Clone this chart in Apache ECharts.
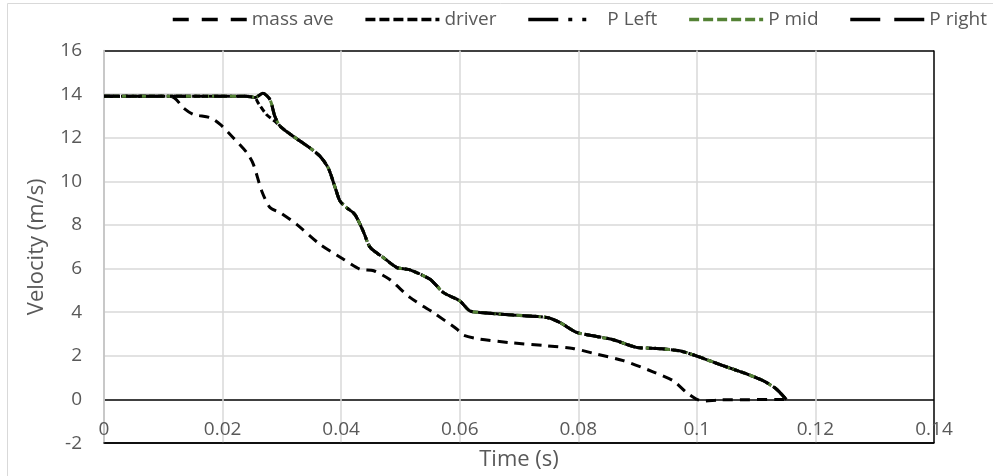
<!DOCTYPE html>
<html>
<head>
<meta charset="utf-8">
<script src="https://cdn.jsdelivr.net/npm/echarts@6/dist/echarts.min.js"></script>
<style>
    html, body { margin: 0; padding: 0; background: #fff; }
    #chart { width: 993px; height: 476px; }
</style>
</head>
<body>
<div id="chart"></div>
<script>
// mass ave
var massTime = [0, 0.005, 0.0112, 0.0122, 0.0134, 0.0151, 0.0179, 0.0196, 0.0218, 0.0241, 0.0252, 0.0266, 0.028, 0.0297,
    0.0325, 0.0364, 0.0404, 0.0432, 0.0455, 0.0482, 0.0516, 0.0555, 0.0595, 0.0606, 0.0634, 0.069, 0.0747, 0.0791,
    0.0831, 0.0876, 0.0926, 0.096, 0.0982, 0.0999, 0.1011, 0.1039, 0.1151];
var massVel = [13.9, 13.9, 13.9, 13.75, 13.37, 13.07, 12.92, 12.61, 12.0, 11.31, 10.78, 9.56, 8.8, 8.57,
    8.03, 7.12, 6.43, 5.97, 5.9, 5.5, 4.68, 3.99, 3.23, 2.95, 2.77, 2.59, 2.46, 2.34,
    2.08, 1.78, 1.27, 0.86, 0.33, 0.02, -0.07, -0.02, 0];

// driver
var driverTime = [0, 0.005, 0.01, 0.015, 0.02, 0.024, 0.0255, 0.026, 0.0274, 0.0288, 0.0297, 0.0319, 0.0347, 0.0364,
    0.0378, 0.039, 0.0398, 0.0409, 0.0423, 0.0437, 0.0449, 0.0471, 0.0494, 0.0515, 0.055, 0.0572, 0.06, 0.0617,
    0.0634, 0.069, 0.0747, 0.0769, 0.0797, 0.0831, 0.0859, 0.0898, 0.0932, 0.0971, 0.0999, 0.1044, 0.1084,
    0.1112, 0.1134, 0.1151];
var driverVel = [13.9, 13.9, 13.9, 13.9, 13.9, 13.9, 13.83, 13.6, 13.07, 12.76, 12.53, 12.07, 11.54, 11.16,
    10.63, 9.71, 9.1, 8.8, 8.49, 7.73, 6.97, 6.51, 6.05, 5.95, 5.51, 4.91, 4.52, 4.06,
    3.99, 3.87, 3.76, 3.53, 3.08, 2.89, 2.74, 2.39, 2.34, 2.23, 2.0, 1.55, 1.17,
    0.86, 0.48, 0];

// P Left / P mid / P right (practically the same curve)
var pTime = [0, 0.005, 0.01, 0.015, 0.02, 0.024, 0.0255, 0.0268, 0.028, 0.0288, 0.0297, 0.0319, 0.0347, 0.0364,
    0.0378, 0.039, 0.0398, 0.0409, 0.0423, 0.0437, 0.0449, 0.0471, 0.0494, 0.0515, 0.055, 0.0572, 0.06, 0.0617,
    0.0634, 0.069, 0.0747, 0.0769, 0.0797, 0.0831, 0.0859, 0.0898, 0.0932, 0.0971, 0.0999, 0.1044, 0.1084,
    0.1112, 0.1134, 0.1151];
var pVel = [13.9, 13.9, 13.9, 13.9, 13.9, 13.9, 13.85, 14.04, 13.75, 13.0, 12.53, 12.07, 11.54, 11.16,
    10.63, 9.71, 9.1, 8.8, 8.49, 7.73, 6.97, 6.51, 6.05, 5.95, 5.51, 4.91, 4.52, 4.06,
    3.99, 3.87, 3.76, 3.53, 3.08, 2.89, 2.74, 2.39, 2.34, 2.23, 2.0, 1.55, 1.17,
    0.86, 0.48, 0];

var seriesNames = ['mass ave', 'driver', 'P Left', 'P mid', 'P right'];
var xTicks = { min: 0, max: 0.14, step: 0.02 };
var yTicks = { min: -2, max: 16, step: 2 };

function pairs(t, v) {
    var out = [];
    for (var i = 0; i < t.length; i++) {
        out.push([t[i], v[i]]);
    }
    return out;
}

(function () {
    var myChart = echarts.init(document.getElementById('chart'));
    var font = 'Open Sans';
    var gray = '#d9d9d9';
    var green = '#548235';

    function line(name, data, color, dash) {
        return {
            name: name,
            type: 'line',
            data: data,
            smooth: 0.25,
            symbol: 'none',
            showSymbol: false,
            lineStyle: { color: color, width: 3, type: dash, cap: 'butt' },
            itemStyle: { color: color }
        };
    }

    // legend icons drawn a bit coarser, like the original
    function legendItem(name, dash) {
        return { name: name, lineStyle: { type: dash, width: 3.5 } };
    }

    var option = {
        animation: false,
        graphic: [{
            type: 'rect',
            shape: { x: 7.5, y: 3.5, width: 1100, height: 600 },
            style: { fill: 'none', stroke: gray, lineWidth: 1 },
            silent: true
        }],
        legend: {
            left: 166,
            top: 5,
            itemWidth: 74,
            itemHeight: 14,
            itemGap: 30,
            itemStyle: { opacity: 0 },
            lineStyle: { width: 3.5 },
            textStyle: { fontFamily: font, fontSize: 19, color: '#595959' },
            data: [
                legendItem(seriesNames[0], [16, 13]),
                legendItem(seriesNames[1], [10, 4]),
                legendItem(seriesNames[2], [30, 10, 4, 10, 4, 16]),
                legendItem(seriesNames[3], [10, 4]),
                legendItem(seriesNames[4], [30, 14])
            ]
        },
        grid: { left: 104, right: 59, top: 50.5, bottom: 32 },
        xAxis: {
            type: 'value',
            min: xTicks.min,
            max: xTicks.max,
            interval: xTicks.step,
            name: 'Time (s)',
            nameLocation: 'middle',
            nameGap: 2,
            nameTextStyle: { fontFamily: font, fontSize: 22, color: '#595959', verticalAlign: 'top' },
            axisLine: { onZero: false, lineStyle: { color: '#000', width: 1.5 } },
            axisTick: { show: false },
            axisLabel: { inside: true, margin: 4, fontFamily: font, fontSize: 19, color: '#595959' },
            splitLine: {
                show: true,
                lineStyle: { color: [gray, gray, gray, gray, gray, gray, gray, '#000'], width: 1.5 }
            }
        },
        yAxis: {
            type: 'value',
            min: yTicks.min,
            max: yTicks.max,
            interval: yTicks.step,
            name: 'Velocity (m/s)',
            nameLocation: 'middle',
            nameGap: 56,
            nameTextStyle: { fontFamily: font, fontSize: 22, color: '#595959' },
            axisLine: { show: true, lineStyle: { color: '#bfbfbf', width: 1.5 } },
            axisTick: { show: false },
            axisLabel: { margin: 22, fontFamily: font, fontSize: 19, color: '#595959' },
            splitLine: {
                show: true,
                lineStyle: { color: ['#000', '#000', gray, gray, gray, gray, gray, gray, gray, '#000'], width: 1.5 }
            }
        },
        series: [
            line(seriesNames[0], pairs(massTime, massVel), '#000', [10, 7]),
            line(seriesNames[1], pairs(driverTime, driverVel), '#000', [6, 3]),
            line(seriesNames[2], pairs(pTime, pVel), '#000', [16, 5, 2, 5, 2, 5]),
            line(seriesNames[3], pairs(pTime, pVel), green, [6, 3]),
            line(seriesNames[4], pairs(pTime, pVel), '#000', [16, 6])
        ]
    };

    myChart.setOption(option);

    window.addEventListener('resize', function () {
        myChart.resize();
    });
})();
</script>
</body>
</html>
